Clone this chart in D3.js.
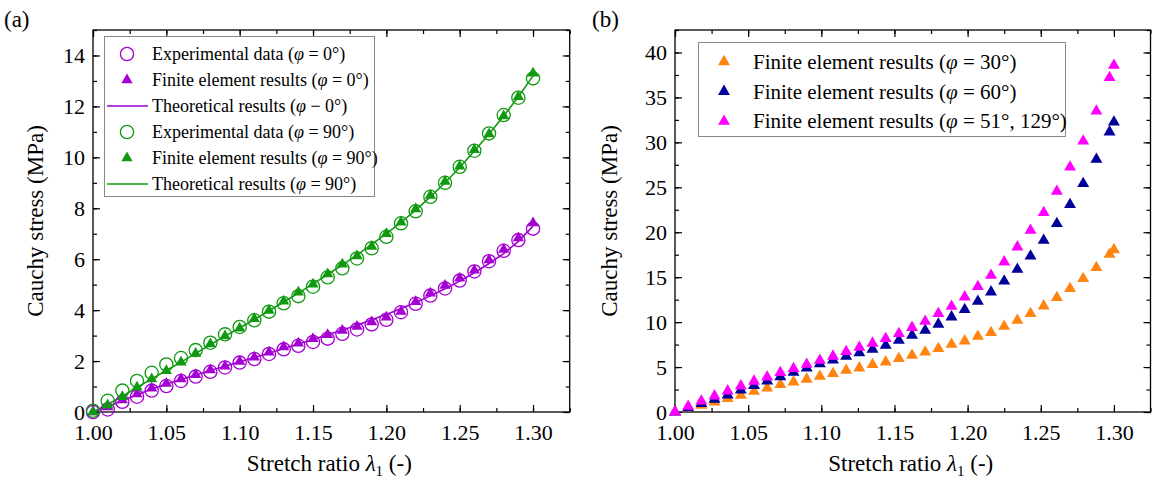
<!DOCTYPE html>
<html><head><meta charset="utf-8">
<script src="https://cdn.jsdelivr.net/npm/d3@7"></script>
<style>
body{margin:0;background:#fff;}
svg, svg text{font-family:"Liberation Serif","Times New Roman",Times,"DejaVu Serif",serif !important;}
</style></head>
<body><svg id="c" width="1154" height="484"></svg>
<script>
// ---------- Data: panel (a) ----------
const stretchA = [1.00,1.01,1.02,1.03,1.04,1.05,1.06,1.07,1.08,1.09,1.10,1.11,1.12,1.13,1.14,1.15,1.16,1.17,1.18,1.19,1.20,1.21,1.22,1.23,1.24,1.25,1.26,1.27,1.28,1.29,1.30];
const expPhi0  = [0,0.10,0.40,0.60,0.84,1.02,1.22,1.39,1.58,1.75,1.94,2.08,2.28,2.46,2.60,2.75,2.88,3.07,3.24,3.44,3.62,3.92,4.25,4.57,4.85,5.16,5.52,5.92,6.33,6.75,7.20];
const fePhi0   = [0,0.20,0.47,0.71,0.93,1.12,1.30,1.46,1.65,1.80,1.98,2.15,2.35,2.55,2.70,2.88,3.03,3.20,3.36,3.53,3.72,3.95,4.33,4.66,4.97,5.25,5.57,5.97,6.38,6.83,7.42];
const thPhi0   = [0,0.20,0.45,0.68,0.90,1.10,1.28,1.45,1.63,1.80,1.97,2.14,2.31,2.49,2.67,2.85,3.03,3.22,3.41,3.62,3.83,4.06,4.30,4.56,4.84,5.14,5.47,5.83,6.22,6.70,7.30];
const expPhi90 = [0.05,0.44,0.84,1.22,1.54,1.87,2.12,2.43,2.72,3.05,3.34,3.60,3.94,4.27,4.55,4.92,5.29,5.64,6.03,6.43,6.88,7.41,7.88,8.45,9.00,9.63,10.26,10.94,11.66,12.34,13.10];
const fePhi90  = [0,0.27,0.60,0.97,1.30,1.62,1.95,2.30,2.67,2.98,3.29,3.66,3.99,4.35,4.70,5.02,5.42,5.80,6.13,6.50,7.00,7.45,7.97,8.50,9.05,9.65,10.30,10.92,11.62,12.38,13.30];
const thPhi90  = [0,0.30,0.62,0.96,1.30,1.63,1.96,2.30,2.64,2.98,3.30,3.63,3.97,4.32,4.67,5.03,5.40,5.78,6.17,6.58,7.00,7.45,7.93,8.45,9.00,9.60,10.25,10.92,11.62,12.38,13.20];

// ---------- Data: panel (b) ----------
const stretchB = [1.000,1.009,1.018,1.027,1.036,1.045,1.054,1.063,1.072,1.081,1.090,1.099,1.108,1.117,1.126,1.135,1.144,1.153,1.162,1.171,1.180,1.189,1.198,1.207,1.216,1.225,1.234,1.243,1.252,1.261,1.270,1.279,1.288,1.297,1.300];
const fePhi30  = [0,0.38,0.75,1.11,1.49,1.86,2.30,2.67,3.05,3.34,3.64,3.97,4.27,4.64,4.90,5.27,5.56,5.94,6.31,6.67,7.05,7.53,7.90,8.42,8.83,9.53,10.20,10.95,11.79,12.73,13.73,14.84,16.06,17.54,18.06];
const fePhi60  = [0,0.45,0.95,1.42,1.90,2.45,2.95,3.45,3.92,4.42,4.90,5.35,5.78,6.20,6.58,6.98,7.42,7.97,8.53,9.09,9.76,10.57,11.39,12.31,13.35,14.57,15.87,17.35,19.10,20.96,23.07,25.41,28.11,31.15,32.26];
const fePhi51  = [0,0.63,1.22,1.78,2.34,2.89,3.42,3.89,4.38,4.83,5.30,5.75,6.20,6.72,7.20,7.65,8.16,8.72,9.40,10.09,10.95,11.76,12.80,13.95,15.20,16.69,18.36,20.21,22.18,24.55,27.25,30.14,33.48,37.20,38.57];

// ---------- Tick labels ----------
const xTicks = [1.00,1.05,1.10,1.15,1.20,1.25,1.30];
const yTicksA = [0,2,4,6,8,10,12,14];
const yTicksB = [0,5,10,15,20,25,30,35,40];

const C = {purple:"#a300d2", green:"#119a11", orange:"#ff8410", navy:"#00009a", magenta:"#ff00ff"};
const FONT = '"Liberation Serif","Times New Roman",Times,serif';

const svg = d3.select("#c").attr("font-family", FONT);
svg.append("rect").attr("width",1154).attr("height",484).attr("fill","#fff");

const TOP = 30, BOT = 412;

function panel(o){
  const g = svg.append("g");
  const x = d3.scaleLinear().domain([1.0,1.325]).range([o.left,o.right]);
  const y = d3.scaleLinear().domain([0,o.ymax]).range([BOT,TOP]);
  const xMinor = d3.range(0,14).map(i=>1.0+i*0.025).filter(v=>v<1.3251);
  const yMinor = d3.range(0, o.ymax+1e-9, o.ystep/2);
  const style = sel => { sel.attr("font-family",FONT); sel.select(".domain").remove(); sel.selectAll("line").attr("stroke","#000").attr("stroke-width",1.2); };
  g.append("g").attr("transform",`translate(0,${BOT})`).call(d3.axisBottom(x).tickValues(xMinor).tickSize(-4).tickFormat("")).call(style);
  g.append("g").attr("transform",`translate(0,${TOP})`).call(d3.axisTop(x).tickValues(xMinor).tickSize(-4).tickFormat("")).call(style);
  g.append("g").attr("transform",`translate(${o.left},0)`).call(d3.axisLeft(y).tickValues(yMinor).tickSize(-4).tickFormat("")).call(style);
  g.append("g").attr("transform",`translate(${o.right},0)`).call(d3.axisRight(y).tickValues(yMinor).tickSize(-4).tickFormat("")).call(style);
  const xa = g.append("g").attr("transform",`translate(0,${BOT})`).call(d3.axisBottom(x).tickValues(xTicks).tickSize(-7).tickPadding(12).tickFormat(d3.format(".2f"))).call(style);
  g.append("g").attr("transform",`translate(0,${TOP})`).call(d3.axisTop(x).tickValues(xTicks).tickSize(-7).tickFormat("")).call(style);
  const ya = g.append("g").attr("transform",`translate(${o.left},0)`).call(d3.axisLeft(y).tickValues(o.yticks).tickSize(-7).tickPadding(8)).call(style);
  g.append("g").attr("transform",`translate(${o.right},0)`).call(d3.axisRight(y).tickValues(o.yticks).tickSize(-7).tickFormat("")).call(style);
  [xa,ya].forEach(a=>a.selectAll("text").attr("fill","#000").attr("font-family",FONT).style("font-size","22px"));
  g.append("rect").attr("x",o.left).attr("y",TOP).attr("width",o.right-o.left).attr("height",BOT-TOP)
    .attr("fill","none").attr("stroke","#000").attr("stroke-width",1.3);
  const xt = g.append("text").attr("x",(o.left+o.right)/2 - 2).attr("y",471).attr("text-anchor","middle").attr("font-family",FONT).style("font-size","23px");
  xt.append("tspan").text("Stretch ratio ");
  xt.append("tspan").style("font-style","italic").text("λ");
  xt.append("tspan").attr("dy",5).style("font-size","15px").text("1");
  xt.append("tspan").attr("dy",-5).text(" (-)");
  g.append("text").attr("transform",`translate(${o.ytx},${(TOP+BOT)/2}) rotate(-90)`).attr("text-anchor","middle")
    .attr("font-family",FONT).style("font-size","23px").text("Cauchy stress (MPa)");
  g.append("text").attr("x",o.labx).attr("y",27).attr("font-family",FONT).style("font-size","23px").text(o.lab);
  return {g,x,y};
}

// ---------- Panel (a) ----------
const A = panel({left:93, right:569.7, ymax:15, ystep:2, yticks:yTicksA, ytx:43, labx:4, lab:"(a)"});
const lineA = d => d3.line().x((v,i)=>A.x(stretchA[i])).y(v=>A.y(v))(d);
[[thPhi0,C.purple],[thPhi90,C.green]].forEach(([d,c])=>{
  A.g.append("path").attr("d",lineA(d)).attr("fill","none").attr("stroke",c).attr("stroke-width",1.6);
});
[[expPhi0,C.purple],[expPhi90,C.green]].forEach(([d,c])=>{
  A.g.append("g").selectAll("circle").data(d).join("circle")
    .attr("cx",(v,i)=>A.x(stretchA[i])).attr("cy",v=>A.y(v)).attr("r",6.6)
    .attr("fill","none").attr("stroke",c).attr("stroke-width",1.3);
});
const triA = d3.symbol().type(d3.symbolTriangle).size(55);
[[fePhi0,C.purple],[fePhi90,C.green]].forEach(([d,c])=>{
  A.g.append("g").selectAll("path").data(d).join("path")
    .attr("transform",(v,i)=>`translate(${A.x(stretchA[i])},${A.y(v)})`).attr("d",triA()).attr("fill",c);
});

// legend (a)
const legA = svg.append("g").attr("font-family",FONT);
legA.append("rect").attr("x",104.5).attr("y",36.5).attr("width",270).attr("height",160).attr("fill","#fff").attr("stroke","#888").attr("stroke-width",1);
const legAItems = [
  {t:"Experimental data (", s:"= 0°)", type:"circle", c:C.purple},
  {t:"Finite element results (", s:"= 0°)", type:"tri", c:C.purple},
  {t:"Theoretical results (", s:"− 0°)", type:"line", c:C.purple},
  {t:"Experimental data (", s:"= 90°)", type:"circle", c:C.green},
  {t:"Finite element results (", s:"= 90°)", type:"tri", c:C.green},
  {t:"Theoretical results (", s:"= 90°)", type:"line", c:C.green}
];
legAItems.forEach((d,i)=>{
  const yy = 54 + i*26;
  if(d.type==="circle") legA.append("circle").attr("cx",127).attr("cy",yy).attr("r",6.6).attr("fill","none").attr("stroke",d.c).attr("stroke-width",1.3);
  if(d.type==="tri") legA.append("path").attr("transform",`translate(127,${yy})`).attr("d",triA()).attr("fill",d.c);
  if(d.type==="line") legA.append("line").attr("x1",107).attr("x2",148).attr("y1",yy).attr("y2",yy).attr("stroke",d.c).attr("stroke-width",1.6);
  const t = legA.append("text").attr("x",152).attr("y",yy+6).attr("font-family",FONT).style("font-size","18px");
  t.append("tspan").text(d.t);
  t.append("tspan").style("font-style","italic").text("φ");
  t.append("tspan").text(" " + d.s);
});

// ---------- Panel (b) ----------
const B = panel({left:675, right:1150.5, ymax:42.5, ystep:5, yticks:yTicksB, ytx:617, labx:592, lab:"(b)"});
const triB = d3.symbol().type(d3.symbolTriangle).size(62);
[[fePhi30,C.orange],[fePhi60,C.navy],[fePhi51,C.magenta]].forEach(([d,c])=>{
  B.g.append("g").selectAll("path").data(d).join("path")
    .attr("transform",(v,i)=>`translate(${B.x(stretchB[i])},${B.y(v)})`).attr("d",triB()).attr("fill",c);
});
const legB = svg.append("g").attr("font-family",FONT);
legB.append("rect").attr("x",698.5).attr("y",42.5).attr("width",367).attr("height",94).attr("fill","#fff").attr("stroke","#888").attr("stroke-width",1);
[["= 30°)",C.orange],["= 60°)",C.navy],["= 51°, 129°)",C.magenta]].forEach(([s,c],i)=>{
  const yy = 61.7 + i*29.8;
  legB.append("path").attr("transform",`translate(724,${yy})`).attr("d",triB()).attr("fill",c);
  const t = legB.append("text").attr("x",753).attr("y",yy+7).attr("font-family",FONT).style("font-size","21px");
  t.append("tspan").text("Finite element results (");
  t.append("tspan").style("font-style","italic").text("φ");
  t.append("tspan").text(" " + s);
});
</script></body></html>
